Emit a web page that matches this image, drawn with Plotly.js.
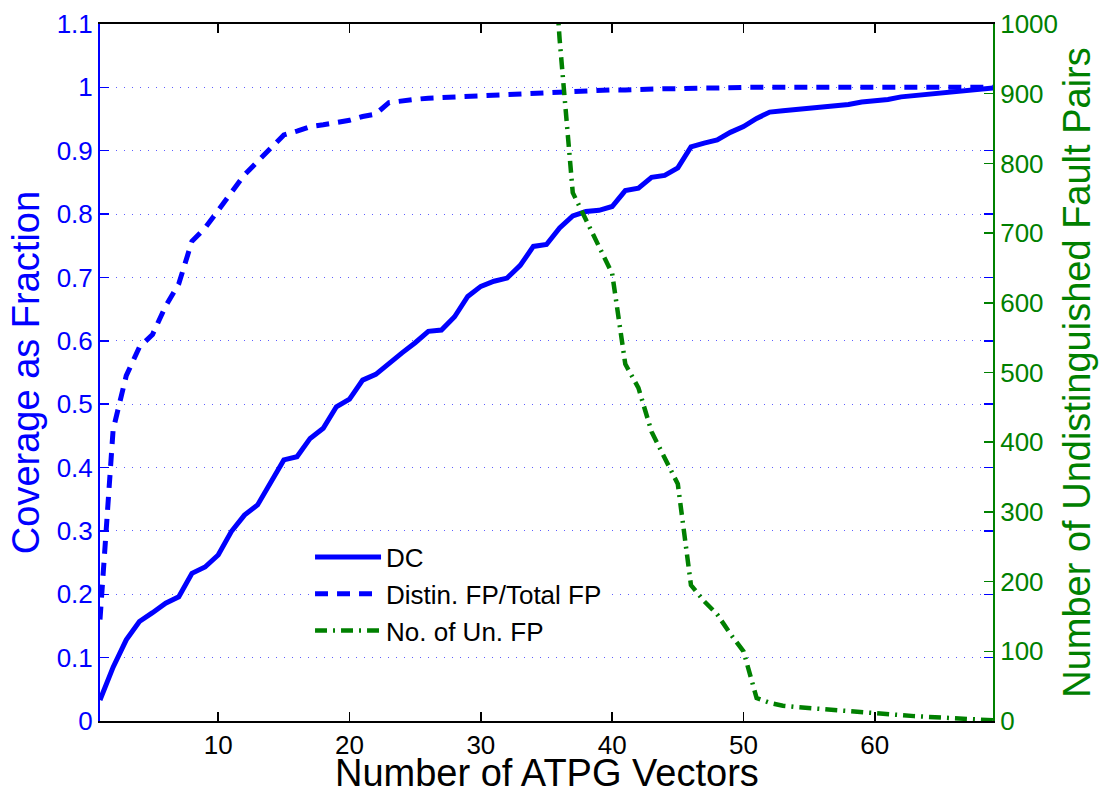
<!DOCTYPE html>
<html>
<head>
<meta charset="utf-8">
<script src="https://cdn.plot.ly/plotly-3.0.1.min.js"></script>
<style>
html,body{margin:0;padding:0;background:#fff;}
#chart{width:1102px;height:790px;}
</style>
</head>
<body>
<div id="chart"></div>
<script>
// ---- Data ----
const vectors = [1,2,3,4,5,6,7,8,9,10,11,12,13,14,15,16,17,18,19,20,21,22,23,24,25,26,27,28,29,30,31,32,33,34,35,36,37,38,39,40,41,42,43,44,45,46,47,48,49,50,51,52,53,54,55,56,57,58,59,60,61,62,63,64,65,66,67,68,69];

const dcCoverage = [0.033,0.085,0.128,0.157,0.171,0.186,0.196,0.233,0.243,0.262,
  0.299,0.325,0.341,0.375,0.412,0.417,0.446,0.462,0.496,0.508,
  0.538,0.547,0.565,0.581,0.597,0.615,0.617,0.638,0.670,0.686,
  0.694,0.699,0.719,0.749,0.752,0.778,0.797,0.804,0.806,0.812,
  0.837,0.841,0.858,0.861,0.873,0.906,0.912,0.917,0.929,0.938,
  0.951,0.961,0.963,0.965,0.967,0.969,0.971,0.973,0.977,0.979,
  0.981,0.985,0.987,0.989,0.991,0.993,0.995,0.997,0.999];

const distinFraction = [0.16,0.46,0.545,0.59,0.61,0.655,0.69,0.757,0.778,0.805,
  0.834,0.862,0.883,0.905,0.925,0.931,0.938,0.941,0.944,0.948,
  0.954,0.958,0.976,0.979,0.981,0.983,0.984,0.985,0.986,0.987,
  0.988,0.989,0.990,0.991,0.992,0.993,0.994,0.995,0.995,0.996,
  0.996,0.997,0.997,0.998,0.998,0.999,0.999,0.999,1.0,1.0,
  1.0,1.0,1.0,1.0,1.0,1.0,1.0,1.0,1.0,1.0,
  1.0,1.0,1.0,1.0,1.0,1.0,1.0,1.0,1.0];

const unFPVectors = [35,36,37,38,39,40,41,42,43,44,45,46,47,48,49,50,51,52,53,54,55,56,57,58,59,60,61,62,63,64,65,66,67,68,69];
const unFPCount = [1250,978,758,720,680,642,512,478,415,378,340,195,172,153,125,100,33,26,22,20,18.5,16,14.5,13,11.5,10.5,9.5,8.5,7,6,5,4,3,2,1];

const seriesNames = ['DC', 'Distin. FP/Total FP', 'No. of Un. FP'];
const xTicks = [10,20,30,40,50,60];
const xTitle = 'Number of ATPG Vectors';

// ---- Styles ----
const FONT = 'Liberation Sans, Arial, Helvetica, sans-serif';
const BLUE = '#0000ff';
const GREEN = '#008000';

const traces = [
  {
    x: vectors, y: dcCoverage, name: seriesNames[0], type: 'scatter', mode: 'lines',
    line: {color: BLUE, width: 5}, yaxis: 'y', legendgroup: 'a'
  },
  {
    x: vectors, y: distinFraction, name: seriesNames[1], type: 'scatter', mode: 'lines',
    line: {color: BLUE, width: 5, dash: '13px,9px'}, yaxis: 'y', legendgroup: 'b'
  },
  {
    x: unFPVectors, y: unFPCount, name: seriesNames[2], type: 'scatter', mode: 'lines',
    line: {color: GREEN, width: 4.5, dash: '12px,6px,2px,6px'}, yaxis: 'y2', legendgroup: 'c'
  }
];

const layout = {
  width: 1102, height: 790,
  margin: {l: 100, r: 109, t: 24, b: 69, pad: 0},
  paper_bgcolor: '#ffffff', plot_bgcolor: '#ffffff',
  font: {family: FONT, size: 26, color: '#000'},
  showlegend: true,
  legend: {
    x: 0.2352, y: 0.269, xanchor: 'left', yanchor: 'top',
    bgcolor: '#ffffff', borderwidth: 0,
    font: {family: FONT, size: 26, color: '#000'},
    itemwidth: 66, traceorder: 'grouped', tracegroupgap: 0
  },
  xaxis: {
    range: [1, 69], tickvals: xTicks, ticktext: xTicks.map(String),
    ticks: 'inside', ticklen: 9, tickwidth: 1.5, tickcolor: '#000',
    showline: true, linecolor: '#000', linewidth: 2, mirror: 'ticks',
    showgrid: false, zeroline: false,
    tickfont: {family: FONT, size: 26, color: '#000'}
  },
  yaxis: {
    range: [0, 1.1], dtick: 0.1, tick0: 0,
    ticks: 'inside', ticklen: 9, tickwidth: 1.5, tickcolor: BLUE,
    showline: true, linecolor: BLUE, linewidth: 2, mirror: 'ticks',
    showgrid: true, gridcolor: 'rgba(40,40,255,0.75)', gridwidth: 1, griddash: '1px,7px',
    zeroline: false,
    tickfont: {family: FONT, size: 26, color: BLUE},
    title: {text: 'Coverage as Fraction', font: {family: FONT, size: 38, color: BLUE}, standoff: 5}
  },
  yaxis2: {
    overlaying: 'y', side: 'right', anchor: 'x',
    range: [0, 1000], dtick: 100, tick0: 0,
    ticks: 'inside', ticklen: 9, tickwidth: 1.5, tickcolor: GREEN,
    showline: true, linecolor: GREEN, linewidth: 2,
    showgrid: false, zeroline: false,
    tickfont: {family: FONT, size: 26, color: GREEN},
    title: {text: 'Number of Undistinguished Fault Pairs', font: {family: FONT, size: 38, color: GREEN}, standoff: 6}
  },
  annotations: [{
    text: xTitle, xref: 'paper', yref: 'paper', x: 0.5, y: 0,
    xanchor: 'center', yanchor: 'middle', yshift: -52, showarrow: false,
    borderpad: 0,
    font: {family: FONT, size: 38, color: '#000'}
  }]
};

Plotly.newPlot('chart', traces, layout, {displayModeBar: false, staticPlot: true});
</script>
</body>
</html>
